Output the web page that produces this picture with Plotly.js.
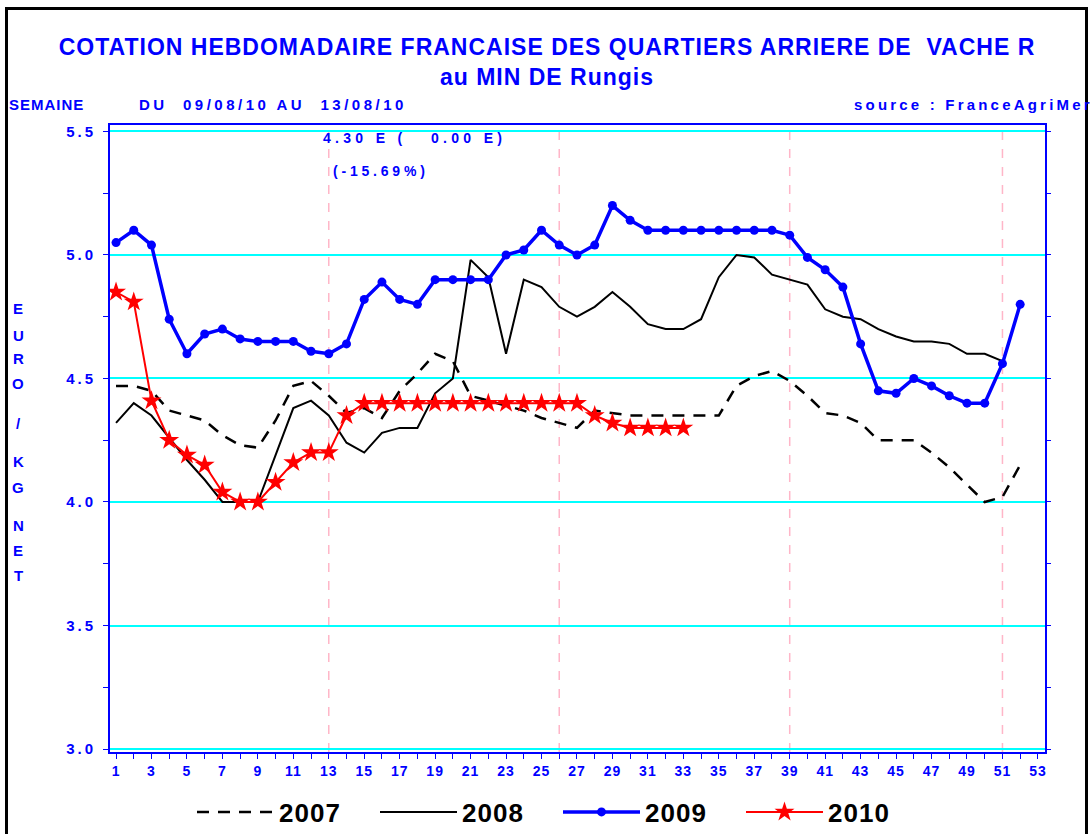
<!DOCTYPE html>
<html>
<head>
<meta charset="utf-8">
<script src="https://cdn.plot.ly/plotly-3.0.1.min.js"></script>
<style>html,body{margin:0;padding:0;background:#fff;}#chart{width:1092px;height:834px;}</style>
</head>
<body>
<div id="chart"></div>
<script>
// ---- data (EURO / KG NET, per week) ----
const weeks2007 = [1,2,3,4,5,6,7,8,9,10,11,12,13,14,15,16,17,18,19,20,21,22,23,24,25,26,27,28,29,30,31,32,33,34,35,36,37,38,39,40,41,42,43,44,45,46,47,48,49,50,51,52];
const values2007 = [4.47,4.47,4.45,4.37,4.35,4.33,4.27,4.23,4.22,4.33,4.47,4.49,4.43,4.36,4.38,4.34,4.45,4.52,4.60,4.57,4.43,4.41,4.39,4.37,4.34,4.32,4.30,4.37,4.36,4.35,4.35,4.35,4.35,4.35,4.35,4.47,4.51,4.53,4.49,4.43,4.36,4.35,4.32,4.25,4.25,4.25,4.20,4.14,4.07,4.00,4.02,4.15];

const weeks2008 = [1,2,3,4,5,6,7,8,9,10,11,12,13,14,15,16,17,18,19,20,21,22,23,24,25,26,27,28,29,30,31,32,33,34,35,36,37,38,39,40,41,42,43,44,45,46,47,48,49,50,51];
const values2008 = [4.32,4.40,4.35,4.26,4.17,4.09,4.00,4.00,4.00,4.19,4.38,4.41,4.35,4.24,4.20,4.28,4.30,4.30,4.44,4.50,4.98,4.91,4.60,4.90,4.87,4.79,4.75,4.79,4.85,4.79,4.72,4.70,4.70,4.74,4.91,5.00,4.99,4.92,4.90,4.88,4.78,4.75,4.74,4.70,4.67,4.65,4.65,4.64,4.60,4.60,4.57];

const weeks2009 = [1,2,3,4,5,6,7,8,9,10,11,12,13,14,15,16,17,18,19,20,21,22,23,24,25,26,27,28,29,30,31,32,33,34,35,36,37,38,39,40,41,42,43,44,45,46,47,48,49,50,51,52];
const values2009 = [5.05,5.10,5.04,4.74,4.60,4.68,4.70,4.66,4.65,4.65,4.65,4.61,4.60,4.64,4.82,4.89,4.82,4.80,4.90,4.90,4.90,4.90,5.00,5.02,5.10,5.04,5.00,5.04,5.20,5.14,5.10,5.10,5.10,5.10,5.10,5.10,5.10,5.10,5.08,4.99,4.94,4.87,4.64,4.45,4.44,4.50,4.47,4.43,4.40,4.40,4.56,4.80];

const weeks2010 = [1,2,3,4,5,6,7,8,9,10,11,12,13,14,15,16,17,18,19,20,21,22,23,24,25,26,27,28,29,30,31,32,33];
const values2010 = [4.85,4.81,4.41,4.25,4.19,4.15,4.04,4.00,4.00,4.08,4.16,4.20,4.20,4.35,4.40,4.40,4.40,4.40,4.40,4.40,4.40,4.40,4.40,4.40,4.40,4.40,4.40,4.35,4.32,4.30,4.30,4.30,4.30];

const seriesNames = ["2007","2008","2009","2010"];
const quarterWeeks = [13,26,39,51];
const yTicks = [3.0,3.5,4.0,4.5,5.0,5.5];
const titleLines = ["COTATION HEBDOMADAIRE FRANCAISE DES QUARTIERS ARRIERE DE&nbsp;&nbsp;VACHE R", "au MIN DE Rungis"];
const weekLabel = "SEMAINE";
const periodLabel = "DU&nbsp;&nbsp;09/08/10 AU&nbsp;&nbsp;13/08/10";
const sourceLabel = "source : FranceAgriMer";
const lastPrice = "4.30";
const lastChange = "0.00";
const lastPct = "-15.69";
const yLabelChars = ["E","U","R","O","/","K","G","N","E","T"];

// ---- layout helpers (page pixel -> paper) ----
const L = 110, R = 47, T = 125, B = 82, W = 1092, H = 834;
const pw = W - L - R, ph = H - T - B;
const px = x => (x - L) / pw;
const py = y => (H - B - y) / ph;

const FONT = "Liberation Sans, Arial, sans-serif";
const BLUE = "#0000ff";

const traces = [
  {x: weeks2007, y: values2007, name: seriesNames[0], type: "scatter", mode: "lines",
   line: {color: "#000", width: 2.5, dash: "12px,9px"}},
  {x: weeks2008, y: values2008, name: seriesNames[1], type: "scatter", mode: "lines",
   line: {color: "#000", width: 2}},
  {x: weeks2009, y: values2009, name: seriesNames[2], type: "scatter", mode: "lines+markers",
   line: {color: BLUE, width: 3.5}, marker: {symbol: "circle", size: 9, color: BLUE}},
  {x: weeks2010, y: values2010, name: seriesNames[3], type: "scatter", mode: "lines+markers",
   line: {color: "#ff0000", width: 2}, marker: {symbol: "star", size: 15, color: "#ff0000"}},
  // invisible trace for right-side mirrored ticks
  {x: [weeks2009[0]], y: [values2009[0]], yaxis: "y2", type: "scatter", mode: "markers",
   marker: {opacity: 0}, showlegend: false, hoverinfo: "skip"}
];

const shapes = quarterWeeks.map(w => ({
  type: "line", xref: "x", yref: "paper", x0: w, x1: w, y0: 0, y1: 1, layer: "below",
  line: {color: "#ffb6c8", width: 1.5, dash: "dash"}
}));
// outer frame
shapes.push({type: "line", xref: "paper", yref: "paper", x0: px(6.5), x1: px(6.5), y0: py(7), y1: py(850), line: {color: "#000", width: 3}});
shapes.push({type: "line", xref: "paper", yref: "paper", x0: px(5), x1: px(1088), y0: py(8.5), y1: py(8.5), line: {color: "#000", width: 3}});
shapes.push({type: "line", xref: "paper", yref: "paper", x0: px(1086.5), x1: px(1086.5), y0: py(7), y1: py(850), line: {color: "#000", width: 3}});

const annFont = {family: FONT, size: 14, color: BLUE, weight: "bold"};
const subFont = {family: FONT, size: 15, color: BLUE, weight: "bold"};
const leftAnn = (text, x, y, font) => ({text, xref: "paper", yref: "paper", x: px(x), y: py(y),
  xanchor: "left", yanchor: "middle", align: "left", showarrow: false, borderpad: 0, font});
const annotations = [
  leftAnn(weekLabel, 8, 105, subFont),
  leftAnn(periodLabel, 138, 105, subFont),
  leftAnn(sourceLabel, 853, 105, subFont),
  leftAnn(lastPrice + " E (&nbsp;&nbsp;&nbsp;" + lastChange + " E)", 322, 138, annFont),
  leftAnn("(-" + lastPct.replace("-", "") + "%)", 332, 171, annFont)
];
// letter spacing per annotation (index -> px)
const annSpacing = {0: "1px", 1: "3.5px", 2: "3.2px", 3: "4.3px", 4: "3.8px"};
const yLabelY = [308, 335, 358, 383, 423, 461, 487, 525, 550, 575];
yLabelChars.forEach((c, i) => annotations.push({
  text: c, xref: "paper", yref: "paper", x: px(18), y: py(yLabelY[i]), xanchor: "center", yanchor: "middle",
  showarrow: false, font: {family: FONT, size: 15, color: BLUE, weight: "bold"}
}));

const layout = {
  width: W, height: H,
  margin: {l: L, r: R, t: T, b: B, autoexpand: false},
  paper_bgcolor: "#fff", plot_bgcolor: "#fff",
  showlegend: true,
  title: {
    text: titleLines.join("<br>"),
    font: {family: FONT, size: 23, color: BLUE, weight: "bold"},
    xref: "container", x: 547 / W, xanchor: "center",
    yref: "container", y: 1 - 55 / H, yanchor: "top"
  },
  xaxis: {
    range: [0.66, 53.4], tick0: 1, dtick: 2, tickmode: "linear",
    showgrid: false, zeroline: false,
    showline: true, linecolor: BLUE, linewidth: 2, mirror: true,
    ticks: "outside", ticklen: 5, tickcolor: BLUE, tickwidth: 1,
    minor: {dtick: 1, tick0: 1, ticks: "outside", ticklen: 5, tickcolor: BLUE, showgrid: false},
    tickfont: {family: FONT, size: 14, color: BLUE, weight: "bold"}
  },
  yaxis: {
    range: [2.988, 5.526], tickvals: yTicks, ticktext: yTicks.map(v => v.toFixed(1)),
    showgrid: true, gridcolor: "#00ffff", gridwidth: 2, zeroline: false,
    showline: true, linecolor: BLUE, linewidth: 2, mirror: true,
    ticks: "outside", ticklen: 5, tickcolor: BLUE, tickwidth: 1, ticklabelstandoff: 4,
    minor: {dtick: 0.25, tick0: 3, ticks: "outside", ticklen: 5, tickcolor: BLUE, showgrid: false},
    tickfont: {family: FONT, size: 15, color: BLUE, weight: "bold"}
  },
  yaxis2: {
    overlaying: "y", side: "right", matches: "y",
    showgrid: false, zeroline: false, showticklabels: false,
    ticks: "outside", ticklen: 5, tickcolor: BLUE, tickvals: yTicks,
    minor: {dtick: 0.25, tick0: 3, ticks: "outside", ticklen: 5, tickcolor: BLUE, showgrid: false}
  },
  legend: {
    orientation: "h", xref: "container", yref: "container",
    x: 192 / W, xanchor: "left", y: 1 - 812 / H, yanchor: "middle",
    font: {family: FONT, size: 26, color: "#000", weight: "bold"},
    itemwidth: 77, entrywidth: 91, entrywidthmode: "pixels", bgcolor: "rgba(0,0,0,0)"
  },
  shapes: shapes,
  annotations: annotations
};

Plotly.newPlot("chart", traces, layout, {displayModeBar: false, staticPlot: true}).then(gd => {
  const setLS = (sel, v) => gd.querySelectorAll(sel).forEach(e => { e.style.letterSpacing = v; });
  setLS(".gtitle", "1px");
  setLS(".ytick text", "3px");
  setLS(".xtick text", "1px");
  setLS(".legendtext", "1px");
  Object.keys(annSpacing).forEach(i => setLS('.annotation[data-index="' + i + '"] text', annSpacing[i]));
});
</script>
</body>
</html>
